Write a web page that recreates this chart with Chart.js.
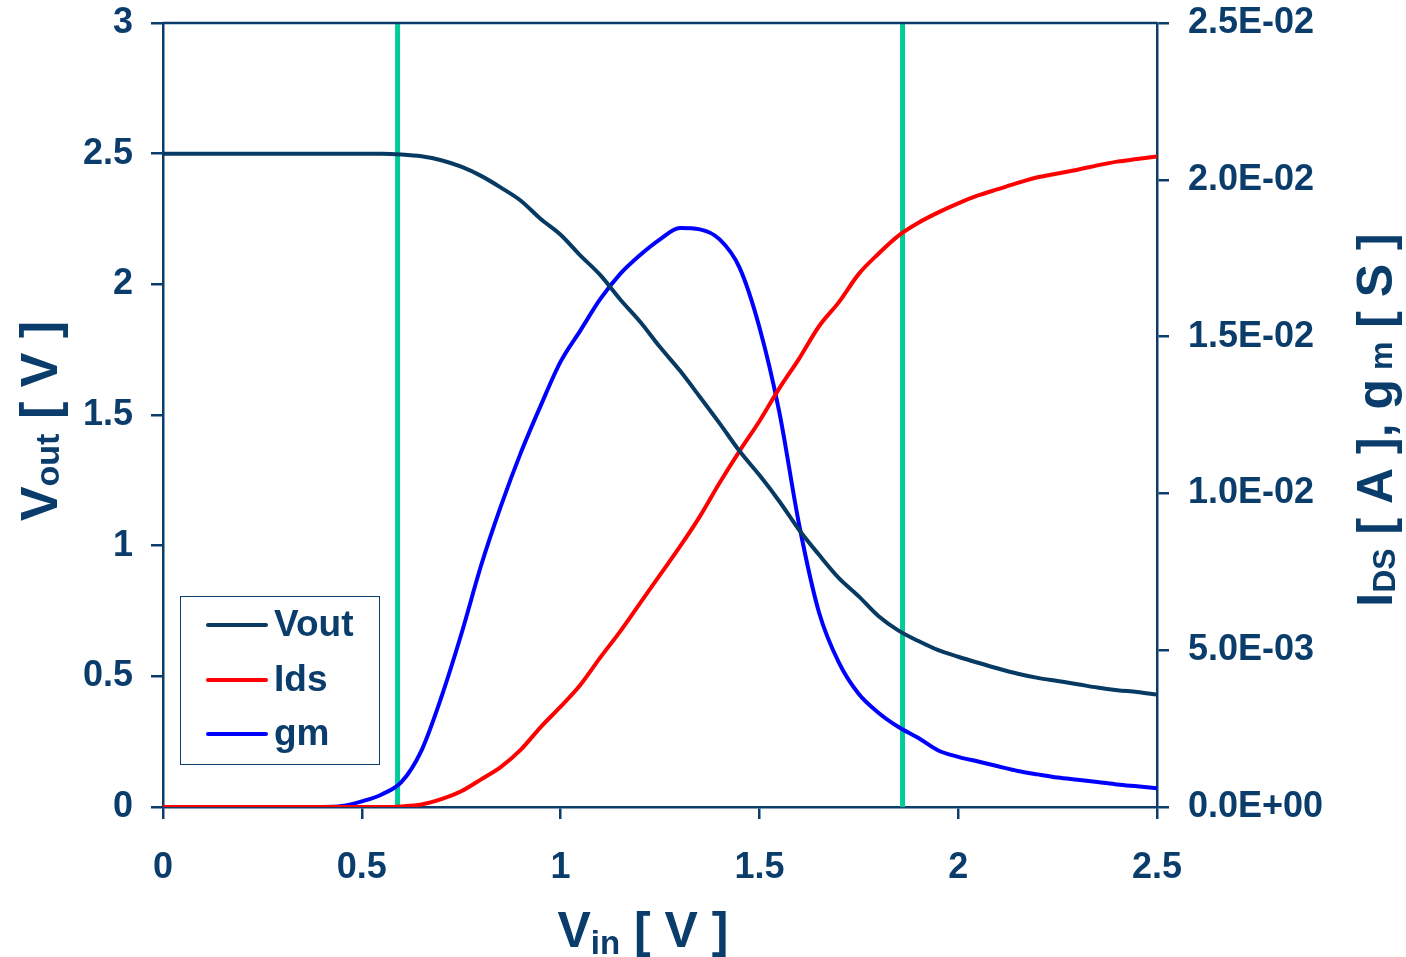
<!DOCTYPE html>
<html>
<head>
<meta charset="utf-8">
<script src="https://cdn.jsdelivr.net/npm/chart.js@4.4.1/dist/chart.umd.min.js"></script>
<style>
  html, body { margin: 0; padding: 0; background: #fff; }
  #wrap { position: relative; width: 1406px; height: 957px; }
</style>
</head>
<body>
<div id="wrap"><canvas id="chart"></canvas></div>
<script>
// Vin sweep [V]
const vin = [0, 0.05, 0.1, 0.15, 0.2, 0.25, 0.3, 0.35, 0.4, 0.45,
  0.5, 0.55, 0.6, 0.65, 0.7, 0.75, 0.8, 0.85, 0.9, 0.95,
  1.0, 1.05, 1.1, 1.15, 1.2, 1.25, 1.3, 1.35, 1.4, 1.45,
  1.5, 1.55, 1.6, 1.65, 1.7, 1.75, 1.8, 1.85, 1.9, 1.95,
  2.0, 2.05, 2.1, 2.15, 2.2, 2.25, 2.3, 2.35, 2.4, 2.45, 2.5];

// Vout [V] (left axis)
const vout = [2.5, 2.5, 2.5, 2.5, 2.5, 2.5, 2.5, 2.5, 2.5, 2.5,
  2.5, 2.5, 2.497, 2.49, 2.475, 2.45, 2.415, 2.37, 2.32, 2.25,
  2.19, 2.11, 2.035, 1.942, 1.857, 1.76, 1.67, 1.57, 1.468, 1.362,
  1.27, 1.17, 1.06, 0.965, 0.876, 0.806, 0.73, 0.675, 0.635, 0.6,
  0.575, 0.552, 0.53, 0.51, 0.494, 0.482, 0.47, 0.457, 0.447, 0.44, 0.43];

// Ids [A] (right axis)
const ids = [0, 0, 0, 0, 0, 0, 0, 0, 0, 0,
  0, 0, 0.00002, 0.00008, 0.00025, 0.0005, 0.00088, 0.00128, 0.00183, 0.00255,
  0.0032, 0.0039, 0.00477, 0.0056, 0.0065, 0.0074, 0.0083, 0.00926, 0.01034, 0.01135,
  0.0123, 0.01335, 0.0143, 0.01533, 0.0161, 0.017, 0.01765, 0.01822, 0.01863, 0.01896,
  0.01925, 0.0195, 0.0197, 0.0199, 0.02008, 0.0202, 0.02032, 0.02046, 0.02058, 0.02066, 0.02074];

// gm [S] (right axis)
const gm = [0, 0, 0, 0, 0, 0, 0, 0, 0, 0.00003,
  0.00018, 0.0004, 0.0008, 0.0018, 0.0035, 0.0055, 0.0077, 0.0096, 0.0113, 0.0128,
  0.0142, 0.0152, 0.0162, 0.017, 0.0176, 0.0181, 0.01846, 0.01842, 0.0181, 0.0172,
  0.0153, 0.0126, 0.009, 0.0062, 0.0046, 0.0036, 0.003, 0.00255, 0.0022, 0.0018,
  0.0016, 0.00145, 0.0013, 0.00115, 0.00104, 0.00094, 0.00087, 0.0008, 0.00072, 0.00066, 0.0006];

// switching-point markers [V]
const markerVin = [0.59, 1.86];

const seriesNames = ["Vout", "Ids", "gm"];

const NAVY = "#0a3d6b";
const FONT = '"Liberation Sans", Arial, sans-serif';

function toPoints(ys) {
  return vin.map((x, i) => ({ x: x, y: ys[i] }));
}

function sciLabel(v) {
  if (Math.abs(v) < 1e-12) return "0.0E+00";
  const e = Math.floor(Math.log10(Math.abs(v)) + 1e-9);
  const m = v / Math.pow(10, e);
  return m.toFixed(1) + "E" + (e < 0 ? "-" : "+") + String(Math.abs(e)).padStart(2, "0");
}

function drawRich(ctx, parts, cx, cy, angle) {
  ctx.save();
  ctx.translate(cx, cy);
  ctx.rotate(angle);
  ctx.fillStyle = NAVY;
  ctx.textAlign = "left";
  ctx.textBaseline = "alphabetic";
  let total = 0;
  parts.forEach((p) => {
    ctx.font = "bold " + p.size + "px " + FONT;
    p.w = ctx.measureText(p.t).width;
    total += p.w;
  });
  let x = -total / 2;
  parts.forEach((p) => {
    ctx.font = "bold " + p.size + "px " + FONT;
    ctx.fillText(p.t, x, p.dy || 0);
    x += p.w;
  });
  ctx.restore();
}

// axis titles with subscripts + the in-plot legend + top frame line
const decorations = {
  id: "decorations",
  afterDraw(chart) {
    const ctx = chart.ctx;
    const area = chart.chartArea;

    ctx.save();
    ctx.strokeStyle = NAVY;
    ctx.lineWidth = 2.5;
    ctx.beginPath();
    ctx.moveTo(area.left, area.top);
    ctx.lineTo(area.right, area.top);
    ctx.stroke();
    ctx.restore();

    drawRich(ctx, [
      { t: "V", size: 50 },
      { t: "in", size: 33, dy: 7 },
      { t: " [ V ]", size: 50 }
    ], 643, 947, 0);

    drawRich(ctx, [
      { t: "V", size: 52 },
      { t: "out", size: 34, dy: 2 },
      { t: " [ V ]", size: 52 }
    ], 57, 421, -Math.PI / 2);

    drawRich(ctx, [
      { t: "I", size: 50 },
      { t: "DS", size: 32, dy: 3 },
      { t: " [ A ], g", size: 50 },
      { t: " m", size: 32, dy: 0 },
      { t: " [ S ]", size: 50 }
    ], 1392, 420, -Math.PI / 2);

    // legend
    ctx.save();
    ctx.strokeStyle = NAVY;
    ctx.lineWidth = 1;
    ctx.strokeRect(180.5, 596.5, 199, 168);
    const rows = [625, 680, 734];
    seriesNames.forEach((name, i) => {
      const ds = chart.data.datasets[i];
      ctx.strokeStyle = ds.borderColor;
      ctx.lineWidth = 4;
      ctx.lineCap = "round";
      ctx.beginPath();
      ctx.moveTo(208, rows[i]);
      ctx.lineTo(266, rows[i]);
      ctx.stroke();
      ctx.fillStyle = NAVY;
      ctx.font = "bold 37px " + FONT;
      ctx.textAlign = "left";
      ctx.textBaseline = "middle";
      ctx.fillText(name, 274, rows[i] + 1);
    });
    ctx.restore();
  }
};

const datasets = [
  {
    label: seriesNames[0],
    data: toPoints(vout),
    yAxisID: "y",
    borderColor: "#073a63",
    borderWidth: 4,
    order: 1
  },
  {
    label: seriesNames[1],
    data: toPoints(ids),
    yAxisID: "y1",
    borderColor: "#ff0000",
    borderWidth: 4,
    order: 1
  },
  {
    label: seriesNames[2],
    data: toPoints(gm),
    yAxisID: "y1",
    borderColor: "#0000ff",
    borderWidth: 4,
    order: 1
  }
];

markerVin.forEach((m) => {
  datasets.push({
    label: "",
    data: [{ x: m, y: 0 }, { x: m, y: 3 }],
    yAxisID: "y",
    borderColor: "#00cc99",
    borderWidth: 5,
    order: 5
  });
});

const tickGrid = {
  display: true,
  drawOnChartArea: false,
  drawTicks: true,
  tickLength: 12,
  color: NAVY,
  lineWidth: 2.5
};

function fixBox(size, key) {
  return (s) => {
    s[key] = size;
    s.paddingTop = 0;
    s.paddingBottom = 0;
    s.paddingLeft = 0;
    s.paddingRight = 0;
  };
}

const chart = new Chart(document.getElementById("chart"), {
  type: "line",
  data: { datasets: datasets },
  options: {
    responsive: true,
    maintainAspectRatio: false,
    animation: false,
    layout: { padding: { top: 23, left: 0, right: 0, bottom: 0 } },
    elements: {
      point: { radius: 0, hoverRadius: 0 },
      line: { cubicInterpolationMode: "monotone", fill: false }
    },
    plugins: {
      legend: { display: false },
      tooltip: { enabled: false }
    },
    scales: {
      x: {
        type: "linear",
        min: 0,
        max: 2.5,
        ticks: {
          stepSize: 0.5,
          color: NAVY,
          padding: 27,
          font: { family: FONT, size: 36, weight: "bold" },
          callback: (v) => String(v)
        },
        grid: tickGrid,
        border: { display: true, color: NAVY, width: 2.5 },
        afterFit: fixBox(150, "height")
      },
      y: {
        position: "left",
        min: 0,
        max: 3,
        ticks: {
          stepSize: 0.5,
          color: NAVY,
          padding: 18,
          font: { family: FONT, size: 36, weight: "bold" },
          callback: (v) => String(v)
        },
        grid: tickGrid,
        border: { display: true, color: NAVY, width: 2.5 },
        afterFit: fixBox(163, "width")
      },
      y1: {
        position: "right",
        min: 0,
        max: 0.025,
        ticks: {
          stepSize: 0.005,
          color: NAVY,
          padding: 19,
          font: { family: FONT, size: 36, weight: "bold" },
          callback: (v) => sciLabel(v)
        },
        grid: tickGrid,
        border: { display: true, color: NAVY, width: 2.5 },
        afterFit: fixBox(249, "width")
      }
    }
  },
  plugins: [decorations]
});
</script>
</body>
</html>
